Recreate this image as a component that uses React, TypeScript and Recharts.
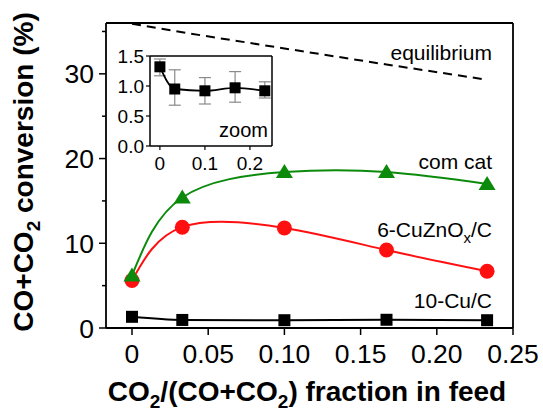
import React from 'react';
import { LineChart, Line, XAxis, YAxis, ReferenceLine, ErrorBar } from 'recharts';

// CO2 fraction in feed (shared by all series)
const feedFraction = [0, 0.033, 0.1, 0.167, 0.233];
// conversions (%)
const cuConversion = [1.32, 0.95, 0.92, 0.97, 0.92];
const cuError = [[0.15, 0.13], [0.27, 0.32], [0.22, 0.22], [0.24, 0.27], [0.12, 0.15]];
const cuZnConversion = [5.6, 11.9, 11.8, 9.2, 6.7];
const comCatConversion = [6.2, 15.4, 18.4, 18.4, 17.0];
const equilibriumConversion = [35.9, 34.9, 33.0, 31.1, 29.3];

const mainXTicks = [0, 0.05, 0.1, 0.15, 0.2, 0.25];
const mainYTicks = [0, 5, 10, 15, 20, 25, 30, 35];
const insetXTicks = [0, 0.05, 0.1, 0.15, 0.2];
const insetYTicks = [0, 0.25, 0.5, 0.75, 1, 1.25, 1.5];

const data = feedFraction.map((x, i) => ({
  x,
  cu: cuConversion[i],
  cuErr: cuError[i],
  cuzn: cuZnConversion[i],
  com: comCatConversion[i],
  eq: equilibriumConversion[i],
}));

const FONT = '"Liberation Sans", Arial, sans-serif';
const GREEN = '#0b8a0b';
const RED = '#ff1010';

const MainYTick = (props: any) => {
  const { x, y, payload } = props;
  const major = payload.value % 10 === 0;
  return (
    <g>
      <line x1={x} x2={x - (major ? 7 : 4)} y1={y} y2={y} stroke="#000" strokeWidth={1.5} />
      {major && (
        <text x={x - 12} y={y + 9.5} textAnchor="end" fontSize={26.5} fontFamily={FONT} fill="#000">
          {payload.value}
        </text>
      )}
    </g>
  );
};

const MainXTick = (props: any) => {
  const { x, y, payload } = props;
  const v = payload.value;
  return (
    <g>
      <line x1={x} x2={x} y1={y} y2={y + 7} stroke="#000" strokeWidth={1.5} />
      <text x={x} y={y + 35} textAnchor="middle" fontSize={26.5} fontFamily={FONT} fill="#000">
        {v === 0 ? '0' : v.toFixed(2)}
      </text>
    </g>
  );
};

const InsetYTick = (props: any) => {
  const { x, y, payload } = props;
  const major = Math.round(payload.value * 100) % 50 === 0;
  return (
    <g>
      <line x1={x} x2={x - (major ? 4 : 2.5)} y1={y} y2={y} stroke="#000" strokeWidth={1.2} />
      {major && (
        <text x={x - 6} y={y + 7} textAnchor="end" fontSize={19} fontFamily={FONT} fill="#000">
          {payload.value.toFixed(1)}
        </text>
      )}
    </g>
  );
};

const InsetXTick = (props: any) => {
  const { x, y, payload } = props;
  const v = payload.value;
  const major = Math.round(v * 100) % 10 === 0;
  return (
    <g>
      <line x1={x} x2={x} y1={y} y2={y + (major ? 4 : 2.5)} stroke="#000" strokeWidth={1.2} />
      {major && (
        <text x={x} y={y + 24} textAnchor="middle" fontSize={19} fontFamily={FONT} fill="#000">
          {v === 0 ? '0' : v.toFixed(1)}
        </text>
      )}
    </g>
  );
};

const square = (size: number) => (p: any) => (
  <rect key={p.index} x={p.cx - size / 2} y={p.cy - size / 2} width={size} height={size} fill="#000" />
);

const triangle = (p: any) => (
  <polygon
    key={p.index}
    points={`${p.cx},${p.cy - 8} ${p.cx - 8.5},${p.cy + 6} ${p.cx + 8.5},${p.cy + 6}`}
    fill={GREEN}
  />
);

export default function App() {
  return (
    <div style={{ position: 'relative', width: 543, height: 412, background: '#fff' }}>
      <style>{'body{margin:0}'}</style>
      <div style={{ position: 'absolute', left: 0, top: 0 }}>
        <LineChart width={543} height={412} data={data} margin={{ top: 23, right: 30, bottom: 0, left: 0 }}>
          <XAxis
            type="number"
            dataKey="x"
            domain={[-0.01706, 0.25]}
            ticks={mainXTicks}
            height={84}
            tickSize={0}
            tickMargin={0}
            tickLine={false}
            tick={<MainXTick />}
            axisLine={{ stroke: '#000', strokeWidth: 1.8 }}
            allowDataOverflow
          />
          <YAxis
            type="number"
            domain={[0, 36]}
            ticks={mainYTicks}
            width={106}
            tickSize={0}
            tickMargin={0}
            tickLine={false}
            tick={<MainYTick />}
            axisLine={{ stroke: '#000', strokeWidth: 1.8 }}
            allowDataOverflow
          />
          <ReferenceLine y={36} stroke="#000" strokeWidth={1.8} />
          <ReferenceLine x={0.25} stroke="#000" strokeWidth={1.8} />
          <Line
            dataKey="eq"
            type="linear"
            stroke="#000"
            strokeWidth={2}
            strokeDasharray="9 6"
            dot={false}
            isAnimationActive={false}
          />
          <Line dataKey="cu" type="monotone" stroke="#000" strokeWidth={2} dot={square(12)} isAnimationActive={false} />
          <Line
            dataKey="cuzn"
            type="natural"
            stroke={RED}
            strokeWidth={2}
            dot={{ r: 7.5, fill: RED, stroke: RED, strokeWidth: 0 }}
            isAnimationActive={false}
          />
          <Line dataKey="com" type="natural" stroke={GREEN} strokeWidth={2} dot={triangle} isAnimationActive={false} />
        </LineChart>
      </div>

      <div style={{ position: 'absolute', left: 100, top: 40 }}>
        <LineChart width={180} height={140} data={data} margin={{ top: 16, right: 8, bottom: 0, left: 0 }}>
          <XAxis
            type="number"
            dataKey="x"
            domain={[-0.022, 0.249]}
            ticks={insetXTicks}
            height={34}
            tickSize={0}
            tickMargin={0}
            tickLine={false}
            tick={<InsetXTick />}
            axisLine={{ stroke: '#000', strokeWidth: 1.5 }}
            allowDataOverflow
          />
          <YAxis
            type="number"
            domain={[0, 1.5]}
            ticks={insetYTicks}
            width={50}
            tickSize={0}
            tickMargin={0}
            tickLine={false}
            tick={<InsetYTick />}
            axisLine={{ stroke: '#000', strokeWidth: 1.5 }}
            allowDataOverflow
          />
          <ReferenceLine y={1.5} stroke="#000" strokeWidth={1.5} />
          <ReferenceLine x={0.249} stroke="#000" strokeWidth={1.5} />
          <Line dataKey="cu" type="monotone" stroke="#000" strokeWidth={1.8} dot={square(11)} isAnimationActive={false}>
            <ErrorBar dataKey="cuErr" direction="y" width={6} stroke="#8a8a8a" strokeWidth={1.2} />
          </Line>
        </LineChart>
      </div>

      <svg
        width={543}
        height={412}
        style={{ position: 'absolute', left: 0, top: 0, pointerEvents: 'none' }}
        fontFamily={FONT}
      >
        <text x={492} y={60} textAnchor="end" fontSize={21}>equilibrium</text>
        <text x={492} y={169} textAnchor="end" fontSize={21}>com cat</text>
        <text x={492} y={237} textAnchor="end" fontSize={21}>
          6-CuZnO<tspan dy={6} fontSize={15}>x</tspan>
          <tspan dy={-6}>/C</tspan>
        </text>
        <text x={492} y={308} textAnchor="end" fontSize={21}>10-Cu/C</text>
        <text x={268} y={137} textAnchor="end" fontSize={20}>zoom</text>

        <text x={307} y={401} textAnchor="middle" fontSize={28} fontWeight="bold">
          CO<tspan dy={7} fontSize={19}>2</tspan>
          <tspan dy={-7}>/(CO+CO</tspan>
          <tspan dy={7} fontSize={19}>2</tspan>
          <tspan dy={-7}>) fraction in feed</tspan>
        </text>
        <text transform="translate(33,172) rotate(-90)" x={0} y={0} textAnchor="middle" fontSize={28} fontWeight="bold">
          CO+CO<tspan dy={7} fontSize={19}>2</tspan>
          <tspan dy={-7}> conversion (%)</tspan>
        </text>
      </svg>
    </div>
  );
}
